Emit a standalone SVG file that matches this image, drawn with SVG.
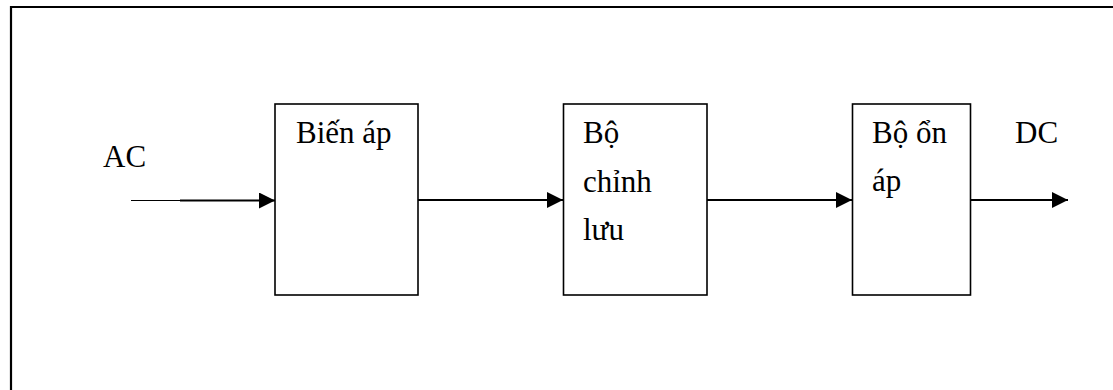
<svg xmlns="http://www.w3.org/2000/svg" width="1113" height="390" viewBox="0 0 1113 390">
<style>
.box{fill:#fff;stroke:#000;stroke-width:1.6}
.t{font-family:"Liberation Serif","Times New Roman",serif;font-size:31px;fill:#000}
.c{stroke:#000;stroke-width:2;fill:none}
</style>
<defs>
<marker id="ah" markerWidth="8" markerHeight="8" refX="8" refY="4" orient="auto" markerUnits="strokeWidth">
<path d="M0,0 L8,4 L0,8 Z" fill="#000"/>
</marker>
</defs>
<rect width="1113" height="390" fill="#fff"/>
<path d="M11,400 V7 H1113" fill="none" stroke="#000" stroke-width="2.2"/>
<g id="node-bienap">
<rect class="box" x="275" y="104" width="143" height="191"/>
<text class="t" x="296" y="143">Biến áp</text>
</g>
<g id="node-chinhluu">
<rect class="box" x="563.5" y="104" width="143.5" height="191"/>
<text class="t" x="583" y="143">Bộ</text>
<text class="t" x="583" y="192">chỉnh</text>
<text class="t" x="583" y="240">lưu</text>
</g>
<g id="node-onap">
<rect class="box" x="852.5" y="104" width="118" height="191"/>
<text class="t" x="872" y="143">Bộ ổn</text>
<text class="t" x="872" y="191">áp</text>
</g>
<g id="labels">
<text class="t" x="103" y="167">AC</text>
<text class="t" x="1015" y="143">DC</text>
</g>
<g id="connectors">
<line x1="131" y1="200.5" x2="181" y2="200.5" stroke="#000" stroke-width="1"/>
<line class="c" x1="180" y1="200.5" x2="275" y2="200.5" marker-end="url(#ah)"/>
<line class="c" x1="418" y1="200" x2="563" y2="200" marker-end="url(#ah)"/>
<line class="c" x1="707" y1="200" x2="852" y2="200" marker-end="url(#ah)"/>
<line class="c" x1="971" y1="200" x2="1068" y2="200" marker-end="url(#ah)"/>
</g>
</svg>
